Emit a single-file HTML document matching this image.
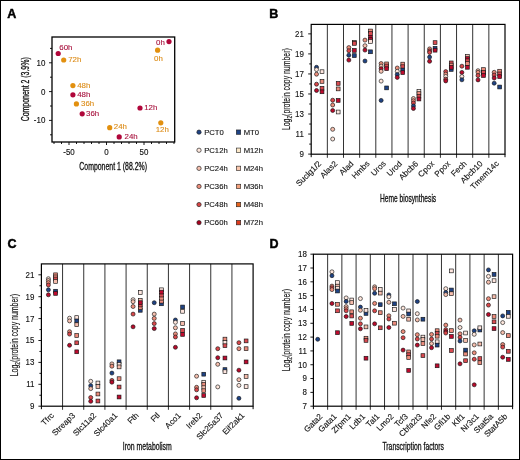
<!DOCTYPE html>
<html><head><meta charset="utf-8"><style>
html,body{margin:0;padding:0;background:#fff;}
svg{display:block;will-change:transform;}
text{font-family:"Liberation Sans", sans-serif;}
</style></head><body>
<svg width="520" height="460" viewBox="0 0 520 460" font-family='"Liberation Sans", sans-serif'>
<rect x="0" y="0" width="520" height="460" fill="#fff"/>
<line x1="54" y1="142" x2="54" y2="144" stroke="#000" stroke-width="0.9"/>
<line x1="61.5" y1="142" x2="61.5" y2="144" stroke="#000" stroke-width="0.9"/>
<line x1="69" y1="142" x2="69" y2="145" stroke="#000" stroke-width="0.9"/>
<line x1="76.5" y1="142" x2="76.5" y2="144" stroke="#000" stroke-width="0.9"/>
<line x1="84" y1="142" x2="84" y2="144" stroke="#000" stroke-width="0.9"/>
<line x1="91.5" y1="142" x2="91.5" y2="144" stroke="#000" stroke-width="0.9"/>
<line x1="99" y1="142" x2="99" y2="144" stroke="#000" stroke-width="0.9"/>
<line x1="106.5" y1="142" x2="106.5" y2="145" stroke="#000" stroke-width="0.9"/>
<line x1="114" y1="142" x2="114" y2="144" stroke="#000" stroke-width="0.9"/>
<line x1="121.5" y1="142" x2="121.5" y2="144" stroke="#000" stroke-width="0.9"/>
<line x1="129" y1="142" x2="129" y2="144" stroke="#000" stroke-width="0.9"/>
<line x1="136.5" y1="142" x2="136.5" y2="144" stroke="#000" stroke-width="0.9"/>
<line x1="144" y1="142" x2="144" y2="145" stroke="#000" stroke-width="0.9"/>
<line x1="151.5" y1="142" x2="151.5" y2="144" stroke="#000" stroke-width="0.9"/>
<line x1="159" y1="142" x2="159" y2="144" stroke="#000" stroke-width="0.9"/>
<line x1="166.5" y1="142" x2="166.5" y2="144" stroke="#000" stroke-width="0.9"/>
<line x1="174" y1="142" x2="174" y2="144" stroke="#000" stroke-width="0.9"/>
<text transform="translate(69,155.3) scale(0.97,1)" font-size="8.2" text-anchor="middle" fill="#111" stroke="#111" stroke-width="0.12">-50</text>
<text transform="translate(106.5,155.3) scale(0.97,1)" font-size="8.2" text-anchor="middle" fill="#111" stroke="#111" stroke-width="0.12">0</text>
<text transform="translate(144,155.3) scale(0.97,1)" font-size="8.2" text-anchor="middle" fill="#111" stroke="#111" stroke-width="0.12">50</text>
<line x1="50" y1="134.8" x2="52" y2="134.8" stroke="#000" stroke-width="0.9"/>
<line x1="49" y1="120.4" x2="52" y2="120.4" stroke="#000" stroke-width="0.9"/>
<line x1="50" y1="106" x2="52" y2="106" stroke="#000" stroke-width="0.9"/>
<line x1="49" y1="91.6" x2="52" y2="91.6" stroke="#000" stroke-width="0.9"/>
<line x1="50" y1="77.2" x2="52" y2="77.2" stroke="#000" stroke-width="0.9"/>
<line x1="49" y1="62.8" x2="52" y2="62.8" stroke="#000" stroke-width="0.9"/>
<line x1="50" y1="48.4" x2="52" y2="48.4" stroke="#000" stroke-width="0.9"/>
<text transform="translate(45.3,65.7) scale(0.97,1)" font-size="8.2" text-anchor="end" fill="#111" stroke="#111" stroke-width="0.12">10</text>
<text transform="translate(45.3,94.5) scale(0.97,1)" font-size="8.2" text-anchor="end" fill="#111" stroke="#111" stroke-width="0.12">0</text>
<text transform="translate(45.3,123.3) scale(0.97,1)" font-size="8.2" text-anchor="end" fill="#111" stroke="#111" stroke-width="0.12">-10</text>
<rect x="52" y="37" width="122.7" height="105" fill="none" stroke="#000" stroke-width="1.3"/>
<circle cx="58.2" cy="53.5" r="2.6" fill="#b0063a"/>
<text x="59.3" y="49.7" font-size="7.9" text-anchor="start" fill="#a8123e" font-weight="normal" stroke="#a8123e" stroke-width="0.12" >60h</text>
<circle cx="63.7" cy="60" r="2.6" fill="#e2900f"/>
<text x="68.2" y="62.2" font-size="7.9" text-anchor="start" fill="#dc8c18" font-weight="normal" stroke="#dc8c18" stroke-width="0.12" >72h</text>
<circle cx="169" cy="41.6" r="2.6" fill="#b0063a"/>
<text x="164.8" y="45.2" font-size="7.9" text-anchor="end" fill="#a8123e" font-weight="normal" stroke="#a8123e" stroke-width="0.12" >0h</text>
<circle cx="157.6" cy="50.2" r="2.6" fill="#e2900f"/>
<text x="154.1" y="60.5" font-size="7.9" text-anchor="start" fill="#dc8c18" font-weight="normal" stroke="#dc8c18" stroke-width="0.12" >0h</text>
<circle cx="72.9" cy="85.6" r="2.6" fill="#e2900f"/>
<text x="77.2" y="87.6" font-size="7.9" text-anchor="start" fill="#dc8c18" font-weight="normal" stroke="#dc8c18" stroke-width="0.12" >48h</text>
<circle cx="72.9" cy="94.8" r="2.6" fill="#b0063a"/>
<text x="77.2" y="96.8" font-size="7.9" text-anchor="start" fill="#a8123e" font-weight="normal" stroke="#a8123e" stroke-width="0.12" >48h</text>
<circle cx="76.4" cy="103.9" r="2.6" fill="#e2900f"/>
<text x="81" y="105.6" font-size="7.9" text-anchor="start" fill="#dc8c18" font-weight="normal" stroke="#dc8c18" stroke-width="0.12" >36h</text>
<circle cx="82.2" cy="113.8" r="2.6" fill="#b0063a"/>
<text x="86" y="115.7" font-size="7.9" text-anchor="start" fill="#a8123e" font-weight="normal" stroke="#a8123e" stroke-width="0.12" >36h</text>
<circle cx="140" cy="108" r="2.6" fill="#b0063a"/>
<text x="144.2" y="110.1" font-size="7.9" text-anchor="start" fill="#a8123e" font-weight="normal" stroke="#a8123e" stroke-width="0.12" >12h</text>
<circle cx="160.8" cy="122.8" r="2.6" fill="#e2900f"/>
<text x="155.7" y="132.4" font-size="7.9" text-anchor="start" fill="#dc8c18" font-weight="normal" stroke="#dc8c18" stroke-width="0.12" >12h</text>
<circle cx="109.7" cy="127.7" r="2.6" fill="#e2900f"/>
<text x="113.8" y="128.5" font-size="7.9" text-anchor="start" fill="#dc8c18" font-weight="normal" stroke="#dc8c18" stroke-width="0.12" >24h</text>
<circle cx="119.2" cy="136.9" r="2.6" fill="#b0063a"/>
<text x="124.6" y="138.5" font-size="7.9" text-anchor="start" fill="#a8123e" font-weight="normal" stroke="#a8123e" stroke-width="0.12" >24h</text>
<text x="79.3" y="169.7" font-size="10" text-anchor="start" fill="#111" font-weight="normal"  textLength="67.7" lengthAdjust="spacingAndGlyphs" stroke="#111" stroke-width="0.3">Component 1 (88.2%)</text>
<text transform="translate(28.6,121.3) rotate(-90)" font-size="10" fill="#111" stroke="#111" stroke-width="0.3" textLength="64" lengthAdjust="spacingAndGlyphs">Component 2 (3.9%)</text>
<circle cx="199" cy="132.15" r="2.15" fill="#1f4385" stroke="#1a1a1a" stroke-width="0.65"/>
<text x="204.2" y="134.55" font-size="7.7" text-anchor="start" fill="#111" font-weight="normal" stroke="#111" stroke-width="0.12" >PCT0</text>
<rect x="236.3" y="129.95" width="4.4" height="4.4" fill="#1f4385" stroke="#222" stroke-width="0.6"/>
<text x="243.7" y="134.55" font-size="7.7" text-anchor="start" fill="#111" font-weight="normal" stroke="#111" stroke-width="0.12" >MT0</text>
<circle cx="199" cy="150.25" r="2.15" fill="#fde6dc" stroke="#1a1a1a" stroke-width="0.65"/>
<text x="204.2" y="152.65" font-size="7.7" text-anchor="start" fill="#111" font-weight="normal" stroke="#111" stroke-width="0.12" >PC12h</text>
<rect x="236.3" y="148.05" width="4.4" height="4.4" fill="#fde9c9" stroke="#222" stroke-width="0.6"/>
<text x="243.7" y="152.65" font-size="7.7" text-anchor="start" fill="#111" font-weight="normal" stroke="#111" stroke-width="0.12" >M12h</text>
<circle cx="199" cy="168.35" r="2.15" fill="#f5bfae" stroke="#1a1a1a" stroke-width="0.65"/>
<text x="204.2" y="170.75" font-size="7.7" text-anchor="start" fill="#111" font-weight="normal" stroke="#111" stroke-width="0.12" >PC24h</text>
<rect x="236.3" y="166.15" width="4.4" height="4.4" fill="#fbc8ae" stroke="#222" stroke-width="0.6"/>
<text x="243.7" y="170.75" font-size="7.7" text-anchor="start" fill="#111" font-weight="normal" stroke="#111" stroke-width="0.12" >M24h</text>
<circle cx="199" cy="186.45" r="2.15" fill="#ec8e7c" stroke="#1a1a1a" stroke-width="0.65"/>
<text x="204.2" y="188.85" font-size="7.7" text-anchor="start" fill="#111" font-weight="normal" stroke="#111" stroke-width="0.12" >PC36h</text>
<rect x="236.3" y="184.25" width="4.4" height="4.4" fill="#f5a37f" stroke="#222" stroke-width="0.6"/>
<text x="243.7" y="188.85" font-size="7.7" text-anchor="start" fill="#111" font-weight="normal" stroke="#111" stroke-width="0.12" >M36h</text>
<circle cx="199" cy="204.55" r="2.15" fill="#d64545" stroke="#1a1a1a" stroke-width="0.65"/>
<text x="204.2" y="206.95" font-size="7.7" text-anchor="start" fill="#111" font-weight="normal" stroke="#111" stroke-width="0.12" >PC48h</text>
<rect x="236.3" y="202.35" width="4.4" height="4.4" fill="#e6631d" stroke="#222" stroke-width="0.6"/>
<text x="243.7" y="206.95" font-size="7.7" text-anchor="start" fill="#111" font-weight="normal" stroke="#111" stroke-width="0.12" >M48h</text>
<circle cx="199" cy="222.65" r="2.15" fill="#a8001f" stroke="#1a1a1a" stroke-width="0.65"/>
<text x="204.2" y="225.05" font-size="7.7" text-anchor="start" fill="#111" font-weight="normal" stroke="#111" stroke-width="0.12" >PC60h</text>
<rect x="236.3" y="220.45" width="4.4" height="4.4" fill="#de3a1c" stroke="#222" stroke-width="0.6"/>
<text x="243.7" y="225.05" font-size="7.7" text-anchor="start" fill="#111" font-weight="normal" stroke="#111" stroke-width="0.12" >M72h</text>
<line x1="327.35" y1="24.4" x2="327.35" y2="157.8" stroke="#333" stroke-width="1.0"/>
<line x1="343.5" y1="24.4" x2="343.5" y2="157.8" stroke="#333" stroke-width="1.0"/>
<line x1="359.65" y1="24.4" x2="359.65" y2="157.8" stroke="#333" stroke-width="1.0"/>
<line x1="375.8" y1="24.4" x2="375.8" y2="157.8" stroke="#333" stroke-width="1.0"/>
<line x1="391.95" y1="24.4" x2="391.95" y2="157.8" stroke="#333" stroke-width="1.0"/>
<line x1="408.1" y1="24.4" x2="408.1" y2="157.8" stroke="#333" stroke-width="1.0"/>
<line x1="424.25" y1="24.4" x2="424.25" y2="157.8" stroke="#333" stroke-width="1.0"/>
<line x1="440.4" y1="24.4" x2="440.4" y2="157.8" stroke="#333" stroke-width="1.0"/>
<line x1="456.55" y1="24.4" x2="456.55" y2="157.8" stroke="#333" stroke-width="1.0"/>
<line x1="472.7" y1="24.4" x2="472.7" y2="157.8" stroke="#333" stroke-width="1.0"/>
<line x1="488.85" y1="24.4" x2="488.85" y2="157.8" stroke="#333" stroke-width="1.0"/>
<line x1="311.2" y1="154.2" x2="311.2" y2="157.2" stroke="#000" stroke-width="1.0"/>
<line x1="505" y1="154.2" x2="505" y2="157.2" stroke="#000" stroke-width="1.0"/>
<line x1="309.2" y1="144.08" x2="311.2" y2="144.08" stroke="#000" stroke-width="0.9"/>
<line x1="309.2" y1="124.04" x2="311.2" y2="124.04" stroke="#000" stroke-width="0.9"/>
<line x1="309.2" y1="104" x2="311.2" y2="104" stroke="#000" stroke-width="0.9"/>
<line x1="309.2" y1="83.96" x2="311.2" y2="83.96" stroke="#000" stroke-width="0.9"/>
<line x1="309.2" y1="63.92" x2="311.2" y2="63.92" stroke="#000" stroke-width="0.9"/>
<line x1="309.2" y1="43.88" x2="311.2" y2="43.88" stroke="#000" stroke-width="0.9"/>
<line x1="308.2" y1="154.1" x2="311.2" y2="154.1" stroke="#000" stroke-width="0.9"/>
<text transform="translate(303.8,157) scale(0.97,1)" font-size="8.2" text-anchor="end" fill="#111" stroke="#111" stroke-width="0.12">9</text>
<line x1="308.2" y1="134.06" x2="311.2" y2="134.06" stroke="#000" stroke-width="0.9"/>
<text transform="translate(303.8,136.96) scale(0.97,1)" font-size="8.2" text-anchor="end" fill="#111" stroke="#111" stroke-width="0.12">11</text>
<line x1="308.2" y1="114.02" x2="311.2" y2="114.02" stroke="#000" stroke-width="0.9"/>
<text transform="translate(303.8,116.92) scale(0.97,1)" font-size="8.2" text-anchor="end" fill="#111" stroke="#111" stroke-width="0.12">13</text>
<line x1="308.2" y1="93.98" x2="311.2" y2="93.98" stroke="#000" stroke-width="0.9"/>
<text transform="translate(303.8,96.88) scale(0.97,1)" font-size="8.2" text-anchor="end" fill="#111" stroke="#111" stroke-width="0.12">15</text>
<line x1="308.2" y1="73.94" x2="311.2" y2="73.94" stroke="#000" stroke-width="0.9"/>
<text transform="translate(303.8,76.84) scale(0.97,1)" font-size="8.2" text-anchor="end" fill="#111" stroke="#111" stroke-width="0.12">17</text>
<line x1="308.2" y1="53.9" x2="311.2" y2="53.9" stroke="#000" stroke-width="0.9"/>
<text transform="translate(303.8,56.8) scale(0.97,1)" font-size="8.2" text-anchor="end" fill="#111" stroke="#111" stroke-width="0.12">19</text>
<line x1="308.2" y1="33.86" x2="311.2" y2="33.86" stroke="#000" stroke-width="0.9"/>
<text transform="translate(303.8,36.76) scale(0.97,1)" font-size="8.2" text-anchor="end" fill="#111" stroke="#111" stroke-width="0.12">21</text>
<rect x="311.2" y="24.4" width="193.8" height="129.8" fill="none" stroke="#000" stroke-width="1.2"/>
<circle cx="316.53" cy="67.3" r="2" fill="#1f4385" stroke="#151515" stroke-width="0.65"/>
<circle cx="316.53" cy="69.6" r="2" fill="#fde6dc" stroke="#151515" stroke-width="0.65"/>
<circle cx="316.53" cy="74.2" r="2" fill="#ec8e7c" stroke="#151515" stroke-width="0.65"/>
<circle cx="316.53" cy="84.2" r="2" fill="#d9474a" stroke="#151515" stroke-width="0.65"/>
<circle cx="316.53" cy="90.5" r="2" fill="#b80c2c" stroke="#151515" stroke-width="0.65"/>
<rect x="320.12" y="69.8" width="3.8" height="3.8" fill="#fde5de" stroke="#151515" stroke-width="0.65"/>
<rect x="320.12" y="79.5" width="3.8" height="3.8" fill="#ec8c7c" stroke="#151515" stroke-width="0.65"/>
<rect x="320.12" y="86.4" width="3.8" height="3.8" fill="#d94a50" stroke="#151515" stroke-width="0.65"/>
<rect x="320.12" y="89.9" width="3.8" height="3.8" fill="#bf0a2e" stroke="#151515" stroke-width="0.65"/>
<circle cx="332.68" cy="100.2" r="2" fill="#d9474a" stroke="#151515" stroke-width="0.65"/>
<circle cx="332.68" cy="105" r="2" fill="#ec8e7c" stroke="#151515" stroke-width="0.65"/>
<circle cx="332.68" cy="110.5" r="2" fill="#b80c2c" stroke="#151515" stroke-width="0.65"/>
<circle cx="332.68" cy="129.3" r="2" fill="#f5bfae" stroke="#151515" stroke-width="0.65"/>
<circle cx="332.68" cy="139" r="2" fill="#fde6dc" stroke="#151515" stroke-width="0.65"/>
<rect x="336.27" y="81.5" width="3.8" height="3.8" fill="#d94a50" stroke="#151515" stroke-width="0.65"/>
<rect x="336.27" y="87" width="3.8" height="3.8" fill="#ec8c7c" stroke="#151515" stroke-width="0.65"/>
<rect x="336.27" y="98.5" width="3.8" height="3.8" fill="#bf0a2e" stroke="#151515" stroke-width="0.65"/>
<rect x="336.27" y="110.1" width="3.8" height="3.8" fill="#fde5de" stroke="#151515" stroke-width="0.65"/>
<circle cx="348.83" cy="47.6" r="2" fill="#ec8e7c" stroke="#151515" stroke-width="0.65"/>
<circle cx="348.83" cy="50.7" r="2" fill="#d9474a" stroke="#151515" stroke-width="0.65"/>
<circle cx="348.83" cy="55.2" r="2" fill="#1f4385" stroke="#151515" stroke-width="0.65"/>
<circle cx="348.83" cy="60.1" r="2" fill="#b80c2c" stroke="#151515" stroke-width="0.65"/>
<rect x="352.42" y="40.5" width="3.8" height="3.8" fill="#ec8c7c" stroke="#151515" stroke-width="0.65"/>
<rect x="352.42" y="41.5" width="3.8" height="3.8" fill="#d94a50" stroke="#151515" stroke-width="0.65"/>
<rect x="352.42" y="48.5" width="3.8" height="3.8" fill="#bf0a2e" stroke="#151515" stroke-width="0.65"/>
<rect x="352.42" y="53.7" width="3.8" height="3.8" fill="#1f4385" stroke="#151515" stroke-width="0.65"/>
<circle cx="364.98" cy="40.1" r="2" fill="#ec8e7c" stroke="#151515" stroke-width="0.65"/>
<circle cx="364.98" cy="45.7" r="2" fill="#f5bfae" stroke="#151515" stroke-width="0.65"/>
<circle cx="364.98" cy="50.1" r="2" fill="#b80c2c" stroke="#151515" stroke-width="0.65"/>
<circle cx="364.98" cy="61" r="2" fill="#1f4385" stroke="#151515" stroke-width="0.65"/>
<rect x="368.57" y="29.1" width="3.8" height="3.8" fill="#ec8c7c" stroke="#151515" stroke-width="0.65"/>
<rect x="368.57" y="31.6" width="3.8" height="3.8" fill="#d94a50" stroke="#151515" stroke-width="0.65"/>
<rect x="368.57" y="35.3" width="3.8" height="3.8" fill="#bf0a2e" stroke="#151515" stroke-width="0.65"/>
<rect x="368.57" y="37.7" width="3.8" height="3.8" fill="#bf0a2e" stroke="#151515" stroke-width="0.65"/>
<rect x="368.57" y="39.5" width="3.8" height="3.8" fill="#fde5de" stroke="#151515" stroke-width="0.65"/>
<rect x="368.57" y="49.9" width="3.8" height="3.8" fill="#1f4385" stroke="#151515" stroke-width="0.65"/>
<circle cx="381.13" cy="63.5" r="2" fill="#ec8e7c" stroke="#151515" stroke-width="0.65"/>
<circle cx="381.13" cy="66.1" r="2" fill="#f5bfae" stroke="#151515" stroke-width="0.65"/>
<circle cx="381.13" cy="68.7" r="2" fill="#b80c2c" stroke="#151515" stroke-width="0.65"/>
<circle cx="381.13" cy="71.3" r="2" fill="#f5bfae" stroke="#151515" stroke-width="0.65"/>
<circle cx="381.13" cy="81.1" r="2" fill="#fde6dc" stroke="#151515" stroke-width="0.65"/>
<circle cx="381.13" cy="100.4" r="2" fill="#1f4385" stroke="#151515" stroke-width="0.65"/>
<rect x="384.72" y="62" width="3.8" height="3.8" fill="#ec8c7c" stroke="#151515" stroke-width="0.65"/>
<rect x="384.72" y="64.1" width="3.8" height="3.8" fill="#d94a50" stroke="#151515" stroke-width="0.65"/>
<rect x="384.72" y="66.8" width="3.8" height="3.8" fill="#bf0a2e" stroke="#151515" stroke-width="0.65"/>
<rect x="384.72" y="86" width="3.8" height="3.8" fill="#1f4385" stroke="#151515" stroke-width="0.65"/>
<circle cx="397.28" cy="68" r="2" fill="#ec8e7c" stroke="#151515" stroke-width="0.65"/>
<circle cx="397.28" cy="71.3" r="2" fill="#fde6dc" stroke="#151515" stroke-width="0.65"/>
<circle cx="397.28" cy="74.6" r="2" fill="#1f4385" stroke="#151515" stroke-width="0.65"/>
<circle cx="397.28" cy="77.4" r="2" fill="#b80c2c" stroke="#151515" stroke-width="0.65"/>
<rect x="400.87" y="62.2" width="3.8" height="3.8" fill="#ec8c7c" stroke="#151515" stroke-width="0.65"/>
<rect x="400.87" y="64.8" width="3.8" height="3.8" fill="#d94a50" stroke="#151515" stroke-width="0.65"/>
<rect x="400.87" y="68.1" width="3.8" height="3.8" fill="#1f4385" stroke="#151515" stroke-width="0.65"/>
<rect x="400.87" y="70.7" width="3.8" height="3.8" fill="#bf0a2e" stroke="#151515" stroke-width="0.65"/>
<circle cx="413.43" cy="98.5" r="2" fill="#f5bfae" stroke="#151515" stroke-width="0.65"/>
<circle cx="413.43" cy="100.7" r="2" fill="#ec8e7c" stroke="#151515" stroke-width="0.65"/>
<circle cx="413.43" cy="103" r="2" fill="#d9474a" stroke="#151515" stroke-width="0.65"/>
<circle cx="413.43" cy="105.9" r="2" fill="#1f4385" stroke="#151515" stroke-width="0.65"/>
<circle cx="413.43" cy="108.5" r="2" fill="#b80c2c" stroke="#151515" stroke-width="0.65"/>
<rect x="417.02" y="89.5" width="3.8" height="3.8" fill="#fde5de" stroke="#151515" stroke-width="0.65"/>
<rect x="417.02" y="91.7" width="3.8" height="3.8" fill="#ec8c7c" stroke="#151515" stroke-width="0.65"/>
<rect x="417.02" y="94.4" width="3.8" height="3.8" fill="#d94a50" stroke="#151515" stroke-width="0.65"/>
<rect x="417.02" y="97.1" width="3.8" height="3.8" fill="#bf0a2e" stroke="#151515" stroke-width="0.65"/>
<circle cx="429.58" cy="48.9" r="2" fill="#ec8e7c" stroke="#151515" stroke-width="0.65"/>
<circle cx="429.58" cy="50.9" r="2" fill="#d9474a" stroke="#151515" stroke-width="0.65"/>
<circle cx="429.58" cy="52.4" r="2" fill="#d9474a" stroke="#151515" stroke-width="0.65"/>
<circle cx="429.58" cy="57.1" r="2" fill="#1f4385" stroke="#151515" stroke-width="0.65"/>
<circle cx="429.58" cy="61.3" r="2" fill="#b80c2c" stroke="#151515" stroke-width="0.65"/>
<rect x="433.17" y="40.7" width="3.8" height="3.8" fill="#d94a50" stroke="#151515" stroke-width="0.65"/>
<rect x="433.17" y="46.4" width="3.8" height="3.8" fill="#1f4385" stroke="#151515" stroke-width="0.65"/>
<rect x="433.17" y="48.3" width="3.8" height="3.8" fill="#bf0a2e" stroke="#151515" stroke-width="0.65"/>
<circle cx="445.73" cy="71.6" r="2" fill="#d9474a" stroke="#151515" stroke-width="0.65"/>
<circle cx="445.73" cy="74.1" r="2" fill="#ec8e7c" stroke="#151515" stroke-width="0.65"/>
<circle cx="445.73" cy="76.5" r="2" fill="#fde6dc" stroke="#151515" stroke-width="0.65"/>
<circle cx="445.73" cy="79.2" r="2" fill="#d9474a" stroke="#151515" stroke-width="0.65"/>
<circle cx="445.73" cy="80.9" r="2" fill="#b80c2c" stroke="#151515" stroke-width="0.65"/>
<rect x="449.32" y="67.5" width="3.8" height="3.8" fill="#1f4385" stroke="#151515" stroke-width="0.65"/>
<rect x="449.32" y="61" width="3.8" height="3.8" fill="#d94a50" stroke="#151515" stroke-width="0.65"/>
<rect x="449.32" y="63.2" width="3.8" height="3.8" fill="#ec8c7c" stroke="#151515" stroke-width="0.65"/>
<rect x="449.32" y="65.4" width="3.8" height="3.8" fill="#bf0a2e" stroke="#151515" stroke-width="0.65"/>
<circle cx="461.88" cy="66.2" r="2" fill="#d9474a" stroke="#151515" stroke-width="0.65"/>
<circle cx="461.88" cy="72.4" r="2" fill="#b80c2c" stroke="#151515" stroke-width="0.65"/>
<circle cx="461.88" cy="76.5" r="2" fill="#fde6dc" stroke="#151515" stroke-width="0.65"/>
<circle cx="461.88" cy="79.8" r="2" fill="#1f4385" stroke="#151515" stroke-width="0.65"/>
<rect x="465.47" y="54.5" width="3.8" height="3.8" fill="#f5bcac" stroke="#151515" stroke-width="0.65"/>
<rect x="465.47" y="56.7" width="3.8" height="3.8" fill="#bf0a2e" stroke="#151515" stroke-width="0.65"/>
<rect x="465.47" y="58.9" width="3.8" height="3.8" fill="#d94a50" stroke="#151515" stroke-width="0.65"/>
<rect x="465.47" y="61.6" width="3.8" height="3.8" fill="#ec8c7c" stroke="#151515" stroke-width="0.65"/>
<rect x="465.47" y="65.4" width="3.8" height="3.8" fill="#bf0a2e" stroke="#151515" stroke-width="0.65"/>
<circle cx="478.03" cy="70.7" r="2" fill="#f5bfae" stroke="#151515" stroke-width="0.65"/>
<circle cx="478.03" cy="72.3" r="2" fill="#ec8e7c" stroke="#151515" stroke-width="0.65"/>
<circle cx="478.03" cy="75.5" r="2" fill="#d9474a" stroke="#151515" stroke-width="0.65"/>
<circle cx="478.03" cy="79.9" r="2" fill="#b80c2c" stroke="#151515" stroke-width="0.65"/>
<rect x="481.62" y="71.1" width="3.8" height="3.8" fill="#1f4385" stroke="#151515" stroke-width="0.65"/>
<rect x="481.62" y="67.7" width="3.8" height="3.8" fill="#ec8c7c" stroke="#151515" stroke-width="0.65"/>
<rect x="481.62" y="70.5" width="3.8" height="3.8" fill="#d94a50" stroke="#151515" stroke-width="0.65"/>
<rect x="481.62" y="73.6" width="3.8" height="3.8" fill="#bf0a2e" stroke="#151515" stroke-width="0.65"/>
<circle cx="494.18" cy="72.3" r="2" fill="#ec8e7c" stroke="#151515" stroke-width="0.65"/>
<circle cx="494.18" cy="75" r="2" fill="#d9474a" stroke="#151515" stroke-width="0.65"/>
<circle cx="494.18" cy="78" r="2" fill="#b80c2c" stroke="#151515" stroke-width="0.65"/>
<circle cx="494.18" cy="83.2" r="2" fill="#1f4385" stroke="#151515" stroke-width="0.65"/>
<rect x="497.77" y="69.3" width="3.8" height="3.8" fill="#ec8c7c" stroke="#151515" stroke-width="0.65"/>
<rect x="497.77" y="72" width="3.8" height="3.8" fill="#d94a50" stroke="#151515" stroke-width="0.65"/>
<rect x="497.77" y="74.7" width="3.8" height="3.8" fill="#bf0a2e" stroke="#151515" stroke-width="0.65"/>
<rect x="497.77" y="85.1" width="3.8" height="3.8" fill="#1f4385" stroke="#151515" stroke-width="0.65"/>
<text transform="translate(321.77,164.2) rotate(-45)" font-size="8.2" text-anchor="end" fill="#111" stroke="#111" stroke-width="0.12">Suclg1/2</text>
<text transform="translate(337.92,164.2) rotate(-45)" font-size="8.2" text-anchor="end" fill="#111" stroke="#111" stroke-width="0.12">Alas2</text>
<text transform="translate(354.07,164.2) rotate(-45)" font-size="8.2" text-anchor="end" fill="#111" stroke="#111" stroke-width="0.12">Alad</text>
<text transform="translate(370.22,164.2) rotate(-45)" font-size="8.2" text-anchor="end" fill="#111" stroke="#111" stroke-width="0.12">Hmbs</text>
<text transform="translate(386.38,164.2) rotate(-45)" font-size="8.2" text-anchor="end" fill="#111" stroke="#111" stroke-width="0.12">Uros</text>
<text transform="translate(402.52,164.2) rotate(-45)" font-size="8.2" text-anchor="end" fill="#111" stroke="#111" stroke-width="0.12">Urod</text>
<text transform="translate(418.68,164.2) rotate(-45)" font-size="8.2" text-anchor="end" fill="#111" stroke="#111" stroke-width="0.12">Abcb6</text>
<text transform="translate(434.82,164.2) rotate(-45)" font-size="8.2" text-anchor="end" fill="#111" stroke="#111" stroke-width="0.12">Cpox</text>
<text transform="translate(450.97,164.2) rotate(-45)" font-size="8.2" text-anchor="end" fill="#111" stroke="#111" stroke-width="0.12">Ppox</text>
<text transform="translate(467.12,164.2) rotate(-45)" font-size="8.2" text-anchor="end" fill="#111" stroke="#111" stroke-width="0.12">Fech</text>
<text transform="translate(483.28,164.2) rotate(-45)" font-size="8.2" text-anchor="end" fill="#111" stroke="#111" stroke-width="0.12">Abcb10</text>
<text transform="translate(499.43,164.2) rotate(-45)" font-size="8.2" text-anchor="end" fill="#111" stroke="#111" stroke-width="0.12">Tmem14c</text>
<text x="408.1" y="201.7" font-size="10.2" text-anchor="middle" fill="#111" font-weight="normal"  textLength="56.2" lengthAdjust="spacingAndGlyphs" stroke="#111" stroke-width="0.3">Heme biosynthesis</text>
<text transform="translate(290.1,130.1) rotate(-90)" font-size="10.2" fill="#111" stroke="#111" stroke-width="0.15" textLength="81.9" lengthAdjust="spacingAndGlyphs">Log<tspan font-size="7" dy="2.2">2</tspan><tspan dy="-2.2">(protein copy number)</tspan></text>
<line x1="62.57" y1="263.9" x2="62.57" y2="409.8" stroke="#333" stroke-width="1.0"/>
<line x1="83.74" y1="263.9" x2="83.74" y2="409.8" stroke="#333" stroke-width="1.0"/>
<line x1="104.91" y1="263.9" x2="104.91" y2="409.8" stroke="#333" stroke-width="1.0"/>
<line x1="126.08" y1="263.9" x2="126.08" y2="409.8" stroke="#333" stroke-width="1.0"/>
<line x1="147.25" y1="263.9" x2="147.25" y2="409.8" stroke="#333" stroke-width="1.0"/>
<line x1="168.42" y1="263.9" x2="168.42" y2="409.8" stroke="#333" stroke-width="1.0"/>
<line x1="189.59" y1="263.9" x2="189.59" y2="409.8" stroke="#333" stroke-width="1.0"/>
<line x1="210.76" y1="263.9" x2="210.76" y2="409.8" stroke="#333" stroke-width="1.0"/>
<line x1="231.93" y1="263.9" x2="231.93" y2="409.8" stroke="#333" stroke-width="1.0"/>
<line x1="41.4" y1="406.2" x2="41.4" y2="409.2" stroke="#000" stroke-width="1.0"/>
<line x1="253.1" y1="406.2" x2="253.1" y2="409.2" stroke="#000" stroke-width="1.0"/>
<line x1="39.4" y1="395.25" x2="41.4" y2="395.25" stroke="#000" stroke-width="0.9"/>
<line x1="39.4" y1="373.35" x2="41.4" y2="373.35" stroke="#000" stroke-width="0.9"/>
<line x1="39.4" y1="351.45" x2="41.4" y2="351.45" stroke="#000" stroke-width="0.9"/>
<line x1="39.4" y1="329.55" x2="41.4" y2="329.55" stroke="#000" stroke-width="0.9"/>
<line x1="39.4" y1="307.65" x2="41.4" y2="307.65" stroke="#000" stroke-width="0.9"/>
<line x1="39.4" y1="285.75" x2="41.4" y2="285.75" stroke="#000" stroke-width="0.9"/>
<line x1="38.4" y1="406.2" x2="41.4" y2="406.2" stroke="#000" stroke-width="0.9"/>
<text transform="translate(34.4,409.1) scale(0.97,1)" font-size="8.2" text-anchor="end" fill="#111" stroke="#111" stroke-width="0.12">9</text>
<line x1="38.4" y1="384.3" x2="41.4" y2="384.3" stroke="#000" stroke-width="0.9"/>
<text transform="translate(34.4,387.2) scale(0.97,1)" font-size="8.2" text-anchor="end" fill="#111" stroke="#111" stroke-width="0.12">11</text>
<line x1="38.4" y1="362.4" x2="41.4" y2="362.4" stroke="#000" stroke-width="0.9"/>
<text transform="translate(34.4,365.3) scale(0.97,1)" font-size="8.2" text-anchor="end" fill="#111" stroke="#111" stroke-width="0.12">13</text>
<line x1="38.4" y1="340.5" x2="41.4" y2="340.5" stroke="#000" stroke-width="0.9"/>
<text transform="translate(34.4,343.4) scale(0.97,1)" font-size="8.2" text-anchor="end" fill="#111" stroke="#111" stroke-width="0.12">15</text>
<line x1="38.4" y1="318.6" x2="41.4" y2="318.6" stroke="#000" stroke-width="0.9"/>
<text transform="translate(34.4,321.5) scale(0.97,1)" font-size="8.2" text-anchor="end" fill="#111" stroke="#111" stroke-width="0.12">17</text>
<line x1="38.4" y1="296.7" x2="41.4" y2="296.7" stroke="#000" stroke-width="0.9"/>
<text transform="translate(34.4,299.6) scale(0.97,1)" font-size="8.2" text-anchor="end" fill="#111" stroke="#111" stroke-width="0.12">19</text>
<line x1="38.4" y1="274.8" x2="41.4" y2="274.8" stroke="#000" stroke-width="0.9"/>
<text transform="translate(34.4,277.7) scale(0.97,1)" font-size="8.2" text-anchor="end" fill="#111" stroke="#111" stroke-width="0.12">21</text>
<rect x="41.4" y="263.9" width="211.7" height="142.3" fill="none" stroke="#000" stroke-width="1.2"/>
<circle cx="48.39" cy="278.7" r="2" fill="#fde6dc" stroke="#151515" stroke-width="0.65"/>
<circle cx="48.39" cy="280.5" r="2" fill="#f5bfae" stroke="#151515" stroke-width="0.65"/>
<circle cx="48.39" cy="282.6" r="2" fill="#ec8e7c" stroke="#151515" stroke-width="0.65"/>
<circle cx="48.39" cy="285" r="2" fill="#d9474a" stroke="#151515" stroke-width="0.65"/>
<circle cx="48.39" cy="289.8" r="2" fill="#1f4385" stroke="#151515" stroke-width="0.65"/>
<circle cx="48.39" cy="294.8" r="2" fill="#b80c2c" stroke="#151515" stroke-width="0.65"/>
<rect x="53.68" y="272.9" width="3.8" height="3.8" fill="#ec8c7c" stroke="#151515" stroke-width="0.65"/>
<rect x="53.68" y="275" width="3.8" height="3.8" fill="#ec8c7c" stroke="#151515" stroke-width="0.65"/>
<rect x="53.68" y="277.1" width="3.8" height="3.8" fill="#d94a50" stroke="#151515" stroke-width="0.65"/>
<rect x="53.68" y="279.5" width="3.8" height="3.8" fill="#f5bcac" stroke="#151515" stroke-width="0.65"/>
<rect x="53.68" y="289.3" width="3.8" height="3.8" fill="#1f4385" stroke="#151515" stroke-width="0.65"/>
<rect x="53.68" y="291.5" width="3.8" height="3.8" fill="#bf0a2e" stroke="#151515" stroke-width="0.65"/>
<circle cx="69.56" cy="318.2" r="2" fill="#fde6dc" stroke="#151515" stroke-width="0.65"/>
<circle cx="69.56" cy="320.9" r="2" fill="#f5bfae" stroke="#151515" stroke-width="0.65"/>
<circle cx="69.56" cy="331.7" r="2" fill="#ec8e7c" stroke="#151515" stroke-width="0.65"/>
<circle cx="69.56" cy="334.1" r="2" fill="#d9474a" stroke="#151515" stroke-width="0.65"/>
<circle cx="69.56" cy="345.3" r="2" fill="#b80c2c" stroke="#151515" stroke-width="0.65"/>
<rect x="74.85" y="315.7" width="3.8" height="3.8" fill="#fde5de" stroke="#151515" stroke-width="0.65"/>
<rect x="74.85" y="319" width="3.8" height="3.8" fill="#1f4385" stroke="#151515" stroke-width="0.65"/>
<rect x="74.85" y="322.8" width="3.8" height="3.8" fill="#f5bcac" stroke="#151515" stroke-width="0.65"/>
<rect x="74.85" y="333.6" width="3.8" height="3.8" fill="#ec8c7c" stroke="#151515" stroke-width="0.65"/>
<rect x="74.85" y="340.9" width="3.8" height="3.8" fill="#d94a50" stroke="#151515" stroke-width="0.65"/>
<rect x="74.85" y="349.9" width="3.8" height="3.8" fill="#bf0a2e" stroke="#151515" stroke-width="0.65"/>
<circle cx="90.73" cy="381.3" r="2" fill="#fde6dc" stroke="#151515" stroke-width="0.65"/>
<circle cx="90.73" cy="385.7" r="2" fill="#1f4385" stroke="#151515" stroke-width="0.65"/>
<circle cx="90.73" cy="388.6" r="2" fill="#f5bfae" stroke="#151515" stroke-width="0.65"/>
<circle cx="90.73" cy="397.5" r="2" fill="#d9474a" stroke="#151515" stroke-width="0.65"/>
<circle cx="90.73" cy="401.3" r="2" fill="#b80c2c" stroke="#151515" stroke-width="0.65"/>
<rect x="96.02" y="381.1" width="3.8" height="3.8" fill="#fde5de" stroke="#151515" stroke-width="0.65"/>
<rect x="96.02" y="384.6" width="3.8" height="3.8" fill="#f5bcac" stroke="#151515" stroke-width="0.65"/>
<rect x="96.02" y="392.1" width="3.8" height="3.8" fill="#ec8c7c" stroke="#151515" stroke-width="0.65"/>
<rect x="96.02" y="399.1" width="3.8" height="3.8" fill="#d94a50" stroke="#151515" stroke-width="0.65"/>
<circle cx="111.9" cy="363.9" r="2" fill="#f5bfae" stroke="#151515" stroke-width="0.65"/>
<circle cx="111.9" cy="366.2" r="2" fill="#ec8e7c" stroke="#151515" stroke-width="0.65"/>
<circle cx="111.9" cy="373.1" r="2" fill="#1f4385" stroke="#151515" stroke-width="0.65"/>
<circle cx="111.9" cy="380.4" r="2" fill="#d9474a" stroke="#151515" stroke-width="0.65"/>
<circle cx="111.9" cy="382.2" r="2" fill="#b80c2c" stroke="#151515" stroke-width="0.65"/>
<rect x="117.19" y="359.9" width="3.8" height="3.8" fill="#1f4385" stroke="#151515" stroke-width="0.65"/>
<rect x="117.19" y="362.5" width="3.8" height="3.8" fill="#fde5de" stroke="#151515" stroke-width="0.65"/>
<rect x="117.19" y="365" width="3.8" height="3.8" fill="#f5bcac" stroke="#151515" stroke-width="0.65"/>
<rect x="117.19" y="376.8" width="3.8" height="3.8" fill="#ec8c7c" stroke="#151515" stroke-width="0.65"/>
<rect x="117.19" y="385.1" width="3.8" height="3.8" fill="#d94a50" stroke="#151515" stroke-width="0.65"/>
<rect x="117.19" y="395.1" width="3.8" height="3.8" fill="#bf0a2e" stroke="#151515" stroke-width="0.65"/>
<circle cx="133.07" cy="299.7" r="2" fill="#fde6dc" stroke="#151515" stroke-width="0.65"/>
<circle cx="133.07" cy="301.7" r="2" fill="#f5bfae" stroke="#151515" stroke-width="0.65"/>
<circle cx="133.07" cy="306.5" r="2" fill="#ec8e7c" stroke="#151515" stroke-width="0.65"/>
<circle cx="133.07" cy="314.1" r="2" fill="#d9474a" stroke="#151515" stroke-width="0.65"/>
<circle cx="133.07" cy="326.8" r="2" fill="#b80c2c" stroke="#151515" stroke-width="0.65"/>
<rect x="138.36" y="290.6" width="3.8" height="3.8" fill="#fde5de" stroke="#151515" stroke-width="0.65"/>
<rect x="138.36" y="298.5" width="3.8" height="3.8" fill="#f5bcac" stroke="#151515" stroke-width="0.65"/>
<rect x="138.36" y="308.4" width="3.8" height="3.8" fill="#1f4385" stroke="#151515" stroke-width="0.65"/>
<rect x="138.36" y="305.8" width="3.8" height="3.8" fill="#ec8c7c" stroke="#151515" stroke-width="0.65"/>
<rect x="138.36" y="303.1" width="3.8" height="3.8" fill="#d94a50" stroke="#151515" stroke-width="0.65"/>
<rect x="138.36" y="300.8" width="3.8" height="3.8" fill="#bf0a2e" stroke="#151515" stroke-width="0.65"/>
<circle cx="154.24" cy="302.7" r="2" fill="#1f4385" stroke="#151515" stroke-width="0.65"/>
<circle cx="154.24" cy="314.1" r="2" fill="#f5bfae" stroke="#151515" stroke-width="0.65"/>
<circle cx="154.24" cy="318.4" r="2" fill="#ec8e7c" stroke="#151515" stroke-width="0.65"/>
<circle cx="154.24" cy="323.6" r="2" fill="#d9474a" stroke="#151515" stroke-width="0.65"/>
<circle cx="154.24" cy="328.6" r="2" fill="#b80c2c" stroke="#151515" stroke-width="0.65"/>
<rect x="159.53" y="287.9" width="3.8" height="3.8" fill="#fde5de" stroke="#151515" stroke-width="0.65"/>
<rect x="159.53" y="301.9" width="3.8" height="3.8" fill="#1f4385" stroke="#151515" stroke-width="0.65"/>
<rect x="159.53" y="299.3" width="3.8" height="3.8" fill="#ec8c7c" stroke="#151515" stroke-width="0.65"/>
<rect x="159.53" y="296.3" width="3.8" height="3.8" fill="#ec8c7c" stroke="#151515" stroke-width="0.65"/>
<rect x="159.53" y="293.2" width="3.8" height="3.8" fill="#d94a50" stroke="#151515" stroke-width="0.65"/>
<rect x="159.53" y="290.2" width="3.8" height="3.8" fill="#bf0a2e" stroke="#151515" stroke-width="0.65"/>
<circle cx="175.41" cy="320" r="2" fill="#1f4385" stroke="#151515" stroke-width="0.65"/>
<circle cx="175.41" cy="322.3" r="2" fill="#fde6dc" stroke="#151515" stroke-width="0.65"/>
<circle cx="175.41" cy="327.8" r="2" fill="#f5bfae" stroke="#151515" stroke-width="0.65"/>
<circle cx="175.41" cy="333.9" r="2" fill="#ec8e7c" stroke="#151515" stroke-width="0.65"/>
<circle cx="175.41" cy="337" r="2" fill="#d9474a" stroke="#151515" stroke-width="0.65"/>
<circle cx="175.41" cy="347.3" r="2" fill="#b80c2c" stroke="#151515" stroke-width="0.65"/>
<rect x="180.7" y="305.1" width="3.8" height="3.8" fill="#1f4385" stroke="#151515" stroke-width="0.65"/>
<rect x="180.7" y="309.4" width="3.8" height="3.8" fill="#fde5de" stroke="#151515" stroke-width="0.65"/>
<rect x="180.7" y="321.6" width="3.8" height="3.8" fill="#f5bcac" stroke="#151515" stroke-width="0.65"/>
<rect x="180.7" y="328.5" width="3.8" height="3.8" fill="#d94a50" stroke="#151515" stroke-width="0.65"/>
<rect x="180.7" y="332.5" width="3.8" height="3.8" fill="#bf0a2e" stroke="#151515" stroke-width="0.65"/>
<circle cx="196.58" cy="376.2" r="2" fill="#f5bfae" stroke="#151515" stroke-width="0.65"/>
<circle cx="196.58" cy="387.3" r="2" fill="#ec8e7c" stroke="#151515" stroke-width="0.65"/>
<circle cx="196.58" cy="389.8" r="2" fill="#d9474a" stroke="#151515" stroke-width="0.65"/>
<circle cx="196.58" cy="397.8" r="2" fill="#b80c2c" stroke="#151515" stroke-width="0.65"/>
<rect x="201.87" y="372.3" width="3.8" height="3.8" fill="#1f4385" stroke="#151515" stroke-width="0.65"/>
<rect x="201.87" y="380.3" width="3.8" height="3.8" fill="#fde5de" stroke="#151515" stroke-width="0.65"/>
<rect x="201.87" y="382.5" width="3.8" height="3.8" fill="#ec8c7c" stroke="#151515" stroke-width="0.65"/>
<rect x="201.87" y="385.8" width="3.8" height="3.8" fill="#f5bcac" stroke="#151515" stroke-width="0.65"/>
<rect x="201.87" y="388.8" width="3.8" height="3.8" fill="#ec8c7c" stroke="#151515" stroke-width="0.65"/>
<rect x="201.87" y="393.6" width="3.8" height="3.8" fill="#bf0a2e" stroke="#151515" stroke-width="0.65"/>
<circle cx="217.75" cy="348.7" r="2" fill="#d9474a" stroke="#151515" stroke-width="0.65"/>
<circle cx="217.75" cy="357.7" r="2" fill="#b80c2c" stroke="#151515" stroke-width="0.65"/>
<circle cx="217.75" cy="364.3" r="2" fill="#f5bfae" stroke="#151515" stroke-width="0.65"/>
<circle cx="217.75" cy="386.9" r="2" fill="#fde6dc" stroke="#151515" stroke-width="0.65"/>
<rect x="223.04" y="337.2" width="3.8" height="3.8" fill="#ec8c7c" stroke="#151515" stroke-width="0.65"/>
<rect x="223.04" y="340.6" width="3.8" height="3.8" fill="#fde5de" stroke="#151515" stroke-width="0.65"/>
<rect x="223.04" y="343.8" width="3.8" height="3.8" fill="#d94a50" stroke="#151515" stroke-width="0.65"/>
<rect x="223.04" y="356.1" width="3.8" height="3.8" fill="#bf0a2e" stroke="#151515" stroke-width="0.65"/>
<rect x="223.04" y="367.7" width="3.8" height="3.8" fill="#1f4385" stroke="#151515" stroke-width="0.65"/>
<rect x="223.04" y="369.8" width="3.8" height="3.8" fill="#fde5de" stroke="#151515" stroke-width="0.65"/>
<circle cx="238.92" cy="342.7" r="2" fill="#d9474a" stroke="#151515" stroke-width="0.65"/>
<circle cx="238.92" cy="348.7" r="2" fill="#ec8e7c" stroke="#151515" stroke-width="0.65"/>
<circle cx="238.92" cy="370.2" r="2" fill="#b80c2c" stroke="#151515" stroke-width="0.65"/>
<circle cx="238.92" cy="379.7" r="2" fill="#f5bfae" stroke="#151515" stroke-width="0.65"/>
<circle cx="238.92" cy="385.4" r="2" fill="#fde6dc" stroke="#151515" stroke-width="0.65"/>
<circle cx="238.92" cy="398.3" r="2" fill="#1f4385" stroke="#151515" stroke-width="0.65"/>
<rect x="244.21" y="339" width="3.8" height="3.8" fill="#d94a50" stroke="#151515" stroke-width="0.65"/>
<rect x="244.21" y="346.8" width="3.8" height="3.8" fill="#ec8c7c" stroke="#151515" stroke-width="0.65"/>
<rect x="244.21" y="360" width="3.8" height="3.8" fill="#bf0a2e" stroke="#151515" stroke-width="0.65"/>
<rect x="244.21" y="374.6" width="3.8" height="3.8" fill="#f5bcac" stroke="#151515" stroke-width="0.65"/>
<rect x="244.21" y="384.7" width="3.8" height="3.8" fill="#fde5de" stroke="#151515" stroke-width="0.65"/>
<text transform="translate(54.48,416) rotate(-45)" font-size="8.2" text-anchor="end" fill="#111" stroke="#111" stroke-width="0.12">Tfrc</text>
<text transform="translate(75.65,416) rotate(-45)" font-size="8.2" text-anchor="end" fill="#111" stroke="#111" stroke-width="0.12">Streap3</text>
<text transform="translate(96.82,416) rotate(-45)" font-size="8.2" text-anchor="end" fill="#111" stroke="#111" stroke-width="0.12">Slc11a2</text>
<text transform="translate(117.99,416) rotate(-45)" font-size="8.2" text-anchor="end" fill="#111" stroke="#111" stroke-width="0.12">Slc40a1</text>
<text transform="translate(139.16,416) rotate(-45)" font-size="8.2" text-anchor="end" fill="#111" stroke="#111" stroke-width="0.12">Fth</text>
<text transform="translate(160.34,416) rotate(-45)" font-size="8.2" text-anchor="end" fill="#111" stroke="#111" stroke-width="0.12">Ftl</text>
<text transform="translate(181.5,416) rotate(-45)" font-size="8.2" text-anchor="end" fill="#111" stroke="#111" stroke-width="0.12">Aco1</text>
<text transform="translate(202.68,416) rotate(-45)" font-size="8.2" text-anchor="end" fill="#111" stroke="#111" stroke-width="0.12">Ireb2</text>
<text transform="translate(223.84,416) rotate(-45)" font-size="8.2" text-anchor="end" fill="#111" stroke="#111" stroke-width="0.12">Slc25a37</text>
<text transform="translate(245.01,416) rotate(-45)" font-size="8.2" text-anchor="end" fill="#111" stroke="#111" stroke-width="0.12">Eif2ak1</text>
<text x="147.3" y="449.7" font-size="10.2" text-anchor="middle" fill="#111" font-weight="normal"  textLength="49" lengthAdjust="spacingAndGlyphs" stroke="#111" stroke-width="0.3">Iron metabolism</text>
<text transform="translate(18,376.3) rotate(-90)" font-size="10.2" fill="#111" stroke="#111" stroke-width="0.15" textLength="82.3" lengthAdjust="spacingAndGlyphs">Log<tspan font-size="7" dy="2.2">2</tspan><tspan dy="-2.2">(protein copy number)</tspan></text>
<line x1="327.63" y1="254.2" x2="327.63" y2="409.8" stroke="#333" stroke-width="1.0"/>
<line x1="341.86" y1="254.2" x2="341.86" y2="409.8" stroke="#333" stroke-width="1.0"/>
<line x1="356.09" y1="254.2" x2="356.09" y2="409.8" stroke="#333" stroke-width="1.0"/>
<line x1="370.31" y1="254.2" x2="370.31" y2="409.8" stroke="#333" stroke-width="1.0"/>
<line x1="384.54" y1="254.2" x2="384.54" y2="409.8" stroke="#333" stroke-width="1.0"/>
<line x1="398.77" y1="254.2" x2="398.77" y2="409.8" stroke="#333" stroke-width="1.0"/>
<line x1="413" y1="254.2" x2="413" y2="409.8" stroke="#333" stroke-width="1.0"/>
<line x1="427.23" y1="254.2" x2="427.23" y2="409.8" stroke="#333" stroke-width="1.0"/>
<line x1="441.46" y1="254.2" x2="441.46" y2="409.8" stroke="#333" stroke-width="1.0"/>
<line x1="455.69" y1="254.2" x2="455.69" y2="409.8" stroke="#333" stroke-width="1.0"/>
<line x1="469.91" y1="254.2" x2="469.91" y2="409.8" stroke="#333" stroke-width="1.0"/>
<line x1="484.14" y1="254.2" x2="484.14" y2="409.8" stroke="#333" stroke-width="1.0"/>
<line x1="498.37" y1="254.2" x2="498.37" y2="409.8" stroke="#333" stroke-width="1.0"/>
<line x1="313.4" y1="406.2" x2="313.4" y2="409.2" stroke="#000" stroke-width="1.0"/>
<line x1="512.6" y1="406.2" x2="512.6" y2="409.2" stroke="#000" stroke-width="1.0"/>
<line x1="310.4" y1="406.2" x2="313.4" y2="406.2" stroke="#000" stroke-width="0.9"/>
<text transform="translate(306.8,409.1) scale(0.97,1)" font-size="8.2" text-anchor="end" fill="#111" stroke="#111" stroke-width="0.12">7</text>
<line x1="310.4" y1="392.38" x2="313.4" y2="392.38" stroke="#000" stroke-width="0.9"/>
<text transform="translate(306.8,395.28) scale(0.97,1)" font-size="8.2" text-anchor="end" fill="#111" stroke="#111" stroke-width="0.12">8</text>
<line x1="310.4" y1="378.56" x2="313.4" y2="378.56" stroke="#000" stroke-width="0.9"/>
<text transform="translate(306.8,381.46) scale(0.97,1)" font-size="8.2" text-anchor="end" fill="#111" stroke="#111" stroke-width="0.12">9</text>
<line x1="310.4" y1="364.74" x2="313.4" y2="364.74" stroke="#000" stroke-width="0.9"/>
<text transform="translate(306.8,367.64) scale(0.97,1)" font-size="8.2" text-anchor="end" fill="#111" stroke="#111" stroke-width="0.12">10</text>
<line x1="310.4" y1="350.92" x2="313.4" y2="350.92" stroke="#000" stroke-width="0.9"/>
<text transform="translate(306.8,353.82) scale(0.97,1)" font-size="8.2" text-anchor="end" fill="#111" stroke="#111" stroke-width="0.12">11</text>
<line x1="310.4" y1="337.1" x2="313.4" y2="337.1" stroke="#000" stroke-width="0.9"/>
<text transform="translate(306.8,340) scale(0.97,1)" font-size="8.2" text-anchor="end" fill="#111" stroke="#111" stroke-width="0.12">12</text>
<line x1="310.4" y1="323.28" x2="313.4" y2="323.28" stroke="#000" stroke-width="0.9"/>
<text transform="translate(306.8,326.18) scale(0.97,1)" font-size="8.2" text-anchor="end" fill="#111" stroke="#111" stroke-width="0.12">13</text>
<line x1="310.4" y1="309.46" x2="313.4" y2="309.46" stroke="#000" stroke-width="0.9"/>
<text transform="translate(306.8,312.36) scale(0.97,1)" font-size="8.2" text-anchor="end" fill="#111" stroke="#111" stroke-width="0.12">14</text>
<line x1="310.4" y1="295.64" x2="313.4" y2="295.64" stroke="#000" stroke-width="0.9"/>
<text transform="translate(306.8,298.54) scale(0.97,1)" font-size="8.2" text-anchor="end" fill="#111" stroke="#111" stroke-width="0.12">15</text>
<line x1="310.4" y1="281.82" x2="313.4" y2="281.82" stroke="#000" stroke-width="0.9"/>
<text transform="translate(306.8,284.72) scale(0.97,1)" font-size="8.2" text-anchor="end" fill="#111" stroke="#111" stroke-width="0.12">16</text>
<line x1="310.4" y1="268" x2="313.4" y2="268" stroke="#000" stroke-width="0.9"/>
<text transform="translate(306.8,270.9) scale(0.97,1)" font-size="8.2" text-anchor="end" fill="#111" stroke="#111" stroke-width="0.12">17</text>
<line x1="310.4" y1="254.18" x2="313.4" y2="254.18" stroke="#000" stroke-width="0.9"/>
<text transform="translate(306.8,257.08) scale(0.97,1)" font-size="8.2" text-anchor="end" fill="#111" stroke="#111" stroke-width="0.12">18</text>
<rect x="313.4" y="254.2" width="199.2" height="152" fill="none" stroke="#000" stroke-width="1.2"/>
<circle cx="317.71" cy="339.3" r="2" fill="#1f4385" stroke="#151515" stroke-width="0.65"/>
<circle cx="331.94" cy="271.8" r="2" fill="#fde6dc" stroke="#151515" stroke-width="0.65"/>
<circle cx="331.94" cy="275.7" r="2" fill="#1f4385" stroke="#151515" stroke-width="0.65"/>
<circle cx="331.94" cy="286.1" r="2" fill="#ec8e7c" stroke="#151515" stroke-width="0.65"/>
<circle cx="331.94" cy="287.8" r="2" fill="#d9474a" stroke="#151515" stroke-width="0.65"/>
<circle cx="331.94" cy="289.6" r="2" fill="#ec8e7c" stroke="#151515" stroke-width="0.65"/>
<circle cx="331.94" cy="303.5" r="2" fill="#b80c2c" stroke="#151515" stroke-width="0.65"/>
<rect x="335.64" y="280.7" width="3.8" height="3.8" fill="#fde5de" stroke="#151515" stroke-width="0.65"/>
<rect x="335.64" y="284.2" width="3.8" height="3.8" fill="#f5bcac" stroke="#151515" stroke-width="0.65"/>
<rect x="335.64" y="286.3" width="3.8" height="3.8" fill="#fde5de" stroke="#151515" stroke-width="0.65"/>
<rect x="335.64" y="289.1" width="3.8" height="3.8" fill="#1f4385" stroke="#151515" stroke-width="0.65"/>
<rect x="335.64" y="302.4" width="3.8" height="3.8" fill="#ec8c7c" stroke="#151515" stroke-width="0.65"/>
<rect x="335.64" y="308.9" width="3.8" height="3.8" fill="#d94a50" stroke="#151515" stroke-width="0.65"/>
<rect x="335.64" y="330.8" width="3.8" height="3.8" fill="#bf0a2e" stroke="#151515" stroke-width="0.65"/>
<circle cx="346.17" cy="297.9" r="2" fill="#fde6dc" stroke="#151515" stroke-width="0.65"/>
<circle cx="346.17" cy="301.4" r="2" fill="#1f4385" stroke="#151515" stroke-width="0.65"/>
<circle cx="346.17" cy="306.6" r="2" fill="#f5bfae" stroke="#151515" stroke-width="0.65"/>
<circle cx="346.17" cy="308.7" r="2" fill="#ec8e7c" stroke="#151515" stroke-width="0.65"/>
<circle cx="346.17" cy="310.8" r="2" fill="#d9474a" stroke="#151515" stroke-width="0.65"/>
<circle cx="346.17" cy="316.5" r="2" fill="#b80c2c" stroke="#151515" stroke-width="0.65"/>
<rect x="349.87" y="298.1" width="3.8" height="3.8" fill="#fde5de" stroke="#151515" stroke-width="0.65"/>
<rect x="349.87" y="300.7" width="3.8" height="3.8" fill="#f5bcac" stroke="#151515" stroke-width="0.65"/>
<rect x="349.87" y="309.9" width="3.8" height="3.8" fill="#ec8c7c" stroke="#151515" stroke-width="0.65"/>
<rect x="349.87" y="314.1" width="3.8" height="3.8" fill="#d94a50" stroke="#151515" stroke-width="0.65"/>
<rect x="349.87" y="321.5" width="3.8" height="3.8" fill="#bf0a2e" stroke="#151515" stroke-width="0.65"/>
<circle cx="360.4" cy="298.6" r="2" fill="#fde6dc" stroke="#151515" stroke-width="0.65"/>
<circle cx="360.4" cy="307.1" r="2" fill="#1f4385" stroke="#151515" stroke-width="0.65"/>
<circle cx="360.4" cy="310.3" r="2" fill="#f5bfae" stroke="#151515" stroke-width="0.65"/>
<circle cx="360.4" cy="318.2" r="2" fill="#ec8e7c" stroke="#151515" stroke-width="0.65"/>
<circle cx="360.4" cy="323.8" r="2" fill="#d9474a" stroke="#151515" stroke-width="0.65"/>
<circle cx="360.4" cy="328.8" r="2" fill="#b80c2c" stroke="#151515" stroke-width="0.65"/>
<rect x="364.1" y="311.5" width="3.8" height="3.8" fill="#1f4385" stroke="#151515" stroke-width="0.65"/>
<rect x="364.1" y="308.4" width="3.8" height="3.8" fill="#fde5de" stroke="#151515" stroke-width="0.65"/>
<rect x="364.1" y="325" width="3.8" height="3.8" fill="#f5bcac" stroke="#151515" stroke-width="0.65"/>
<rect x="364.1" y="336.3" width="3.8" height="3.8" fill="#ec8c7c" stroke="#151515" stroke-width="0.65"/>
<rect x="364.1" y="338.5" width="3.8" height="3.8" fill="#d94a50" stroke="#151515" stroke-width="0.65"/>
<rect x="364.1" y="356.3" width="3.8" height="3.8" fill="#bf0a2e" stroke="#151515" stroke-width="0.65"/>
<circle cx="374.63" cy="286.8" r="2" fill="#f5bfae" stroke="#151515" stroke-width="0.65"/>
<circle cx="374.63" cy="288.7" r="2" fill="#ec8e7c" stroke="#151515" stroke-width="0.65"/>
<circle cx="374.63" cy="293.3" r="2" fill="#1f4385" stroke="#151515" stroke-width="0.65"/>
<circle cx="374.63" cy="303.4" r="2" fill="#ec8e7c" stroke="#151515" stroke-width="0.65"/>
<circle cx="374.63" cy="310.8" r="2" fill="#d9474a" stroke="#151515" stroke-width="0.65"/>
<circle cx="374.63" cy="323.8" r="2" fill="#b80c2c" stroke="#151515" stroke-width="0.65"/>
<rect x="378.33" y="287.5" width="3.8" height="3.8" fill="#fde5de" stroke="#151515" stroke-width="0.65"/>
<rect x="378.33" y="291.2" width="3.8" height="3.8" fill="#f5bcac" stroke="#151515" stroke-width="0.65"/>
<rect x="378.33" y="302.8" width="3.8" height="3.8" fill="#1f4385" stroke="#151515" stroke-width="0.65"/>
<rect x="378.33" y="310.8" width="3.8" height="3.8" fill="#ec8c7c" stroke="#151515" stroke-width="0.65"/>
<rect x="378.33" y="325.9" width="3.8" height="3.8" fill="#d94a50" stroke="#151515" stroke-width="0.65"/>
<circle cx="388.86" cy="294.9" r="2" fill="#1f4385" stroke="#151515" stroke-width="0.65"/>
<circle cx="388.86" cy="296.8" r="2" fill="#fde6dc" stroke="#151515" stroke-width="0.65"/>
<circle cx="388.86" cy="302.3" r="2" fill="#f5bfae" stroke="#151515" stroke-width="0.65"/>
<circle cx="388.86" cy="315.8" r="2" fill="#ec8e7c" stroke="#151515" stroke-width="0.65"/>
<circle cx="388.86" cy="319" r="2" fill="#d9474a" stroke="#151515" stroke-width="0.65"/>
<circle cx="388.86" cy="327.5" r="2" fill="#b80c2c" stroke="#151515" stroke-width="0.65"/>
<rect x="392.56" y="301.9" width="3.8" height="3.8" fill="#1f4385" stroke="#151515" stroke-width="0.65"/>
<rect x="392.56" y="307.5" width="3.8" height="3.8" fill="#fde5de" stroke="#151515" stroke-width="0.65"/>
<rect x="392.56" y="321.3" width="3.8" height="3.8" fill="#ec8c7c" stroke="#151515" stroke-width="0.65"/>
<circle cx="403.09" cy="308.1" r="2" fill="#fde6dc" stroke="#151515" stroke-width="0.65"/>
<circle cx="403.09" cy="316.4" r="2" fill="#f5bfae" stroke="#151515" stroke-width="0.65"/>
<circle cx="403.09" cy="331.6" r="2" fill="#ec8e7c" stroke="#151515" stroke-width="0.65"/>
<circle cx="403.09" cy="337.7" r="2" fill="#d9474a" stroke="#151515" stroke-width="0.65"/>
<circle cx="403.09" cy="350.1" r="2" fill="#b80c2c" stroke="#151515" stroke-width="0.65"/>
<rect x="406.79" y="309" width="3.8" height="3.8" fill="#fde5de" stroke="#151515" stroke-width="0.65"/>
<rect x="406.79" y="312.1" width="3.8" height="3.8" fill="#1f4385" stroke="#151515" stroke-width="0.65"/>
<rect x="406.79" y="317.3" width="3.8" height="3.8" fill="#f5bcac" stroke="#151515" stroke-width="0.65"/>
<rect x="406.79" y="350" width="3.8" height="3.8" fill="#ec8c7c" stroke="#151515" stroke-width="0.65"/>
<rect x="406.79" y="352.8" width="3.8" height="3.8" fill="#d94a50" stroke="#151515" stroke-width="0.65"/>
<rect x="406.79" y="355.6" width="3.8" height="3.8" fill="#ec8c7c" stroke="#151515" stroke-width="0.65"/>
<rect x="406.79" y="368.5" width="3.8" height="3.8" fill="#bf0a2e" stroke="#151515" stroke-width="0.65"/>
<circle cx="417.31" cy="301.5" r="2" fill="#1f4385" stroke="#151515" stroke-width="0.65"/>
<circle cx="417.31" cy="313.7" r="2" fill="#fde6dc" stroke="#151515" stroke-width="0.65"/>
<circle cx="417.31" cy="319.9" r="2" fill="#f5bfae" stroke="#151515" stroke-width="0.65"/>
<circle cx="417.31" cy="334.7" r="2" fill="#ec8e7c" stroke="#151515" stroke-width="0.65"/>
<circle cx="417.31" cy="339" r="2" fill="#d9474a" stroke="#151515" stroke-width="0.65"/>
<circle cx="417.31" cy="345.1" r="2" fill="#b80c2c" stroke="#151515" stroke-width="0.65"/>
<rect x="421.01" y="317.3" width="3.8" height="3.8" fill="#1f4385" stroke="#151515" stroke-width="0.65"/>
<rect x="421.01" y="335.2" width="3.8" height="3.8" fill="#fde5de" stroke="#151515" stroke-width="0.65"/>
<rect x="421.01" y="337.6" width="3.8" height="3.8" fill="#f5bcac" stroke="#151515" stroke-width="0.65"/>
<rect x="421.01" y="341.7" width="3.8" height="3.8" fill="#ec8c7c" stroke="#151515" stroke-width="0.65"/>
<rect x="421.01" y="353.7" width="3.8" height="3.8" fill="#d94a50" stroke="#151515" stroke-width="0.65"/>
<circle cx="431.54" cy="334.4" r="2" fill="#ec8e7c" stroke="#151515" stroke-width="0.65"/>
<circle cx="431.54" cy="339" r="2" fill="#d9474a" stroke="#151515" stroke-width="0.65"/>
<circle cx="431.54" cy="343.6" r="2" fill="#f5bfae" stroke="#151515" stroke-width="0.65"/>
<circle cx="431.54" cy="347.7" r="2" fill="#b80c2c" stroke="#151515" stroke-width="0.65"/>
<rect x="435.24" y="328.8" width="3.8" height="3.8" fill="#ec8c7c" stroke="#151515" stroke-width="0.65"/>
<rect x="435.24" y="331.5" width="3.8" height="3.8" fill="#d94a50" stroke="#151515" stroke-width="0.65"/>
<rect x="435.24" y="334.3" width="3.8" height="3.8" fill="#ec8c7c" stroke="#151515" stroke-width="0.65"/>
<rect x="435.24" y="339.9" width="3.8" height="3.8" fill="#fde5de" stroke="#151515" stroke-width="0.65"/>
<rect x="435.24" y="343.2" width="3.8" height="3.8" fill="#1f4385" stroke="#151515" stroke-width="0.65"/>
<rect x="435.24" y="363.9" width="3.8" height="3.8" fill="#bf0a2e" stroke="#151515" stroke-width="0.65"/>
<circle cx="445.77" cy="288.7" r="2" fill="#fde6dc" stroke="#151515" stroke-width="0.65"/>
<circle cx="445.77" cy="292.4" r="2" fill="#1f4385" stroke="#151515" stroke-width="0.65"/>
<circle cx="445.77" cy="294.6" r="2" fill="#f5bfae" stroke="#151515" stroke-width="0.65"/>
<circle cx="445.77" cy="325.1" r="2" fill="#ec8e7c" stroke="#151515" stroke-width="0.65"/>
<circle cx="445.77" cy="329.7" r="2" fill="#d9474a" stroke="#151515" stroke-width="0.65"/>
<circle cx="445.77" cy="331.5" r="2" fill="#b80c2c" stroke="#151515" stroke-width="0.65"/>
<circle cx="445.77" cy="333" r="2" fill="#d9474a" stroke="#151515" stroke-width="0.65"/>
<rect x="449.47" y="269" width="3.8" height="3.8" fill="#fde5de" stroke="#151515" stroke-width="0.65"/>
<rect x="449.47" y="288.1" width="3.8" height="3.8" fill="#1f4385" stroke="#151515" stroke-width="0.65"/>
<rect x="449.47" y="291.8" width="3.8" height="3.8" fill="#f5bcac" stroke="#151515" stroke-width="0.65"/>
<rect x="449.47" y="328.7" width="3.8" height="3.8" fill="#ec8c7c" stroke="#151515" stroke-width="0.65"/>
<rect x="449.47" y="334.5" width="3.8" height="3.8" fill="#bf0a2e" stroke="#151515" stroke-width="0.65"/>
<rect x="449.47" y="348.6" width="3.8" height="3.8" fill="#d94a50" stroke="#151515" stroke-width="0.65"/>
<circle cx="460" cy="320.1" r="2" fill="#f5bfae" stroke="#151515" stroke-width="0.65"/>
<circle cx="460" cy="327.5" r="2" fill="#fde6dc" stroke="#151515" stroke-width="0.65"/>
<circle cx="460" cy="333.8" r="2" fill="#ec8e7c" stroke="#151515" stroke-width="0.65"/>
<circle cx="460" cy="337.3" r="2" fill="#d9474a" stroke="#151515" stroke-width="0.65"/>
<circle cx="460" cy="341" r="2" fill="#1f4385" stroke="#151515" stroke-width="0.65"/>
<circle cx="460" cy="363.8" r="2" fill="#b80c2c" stroke="#151515" stroke-width="0.65"/>
<rect x="463.7" y="331.1" width="3.8" height="3.8" fill="#fde5de" stroke="#151515" stroke-width="0.65"/>
<rect x="463.7" y="338.5" width="3.8" height="3.8" fill="#f5bcac" stroke="#151515" stroke-width="0.65"/>
<rect x="463.7" y="348.2" width="3.8" height="3.8" fill="#1f4385" stroke="#151515" stroke-width="0.65"/>
<rect x="463.7" y="352.1" width="3.8" height="3.8" fill="#ec8c7c" stroke="#151515" stroke-width="0.65"/>
<rect x="463.7" y="358.8" width="3.8" height="3.8" fill="#d94a50" stroke="#151515" stroke-width="0.65"/>
<circle cx="474.23" cy="330.8" r="2" fill="#1f4385" stroke="#151515" stroke-width="0.65"/>
<circle cx="474.23" cy="334.3" r="2" fill="#fde6dc" stroke="#151515" stroke-width="0.65"/>
<circle cx="474.23" cy="344.9" r="2" fill="#f5bfae" stroke="#151515" stroke-width="0.65"/>
<circle cx="474.23" cy="352.8" r="2" fill="#ec8e7c" stroke="#151515" stroke-width="0.65"/>
<circle cx="474.23" cy="359.2" r="2" fill="#d9474a" stroke="#151515" stroke-width="0.65"/>
<circle cx="474.23" cy="384.8" r="2" fill="#b80c2c" stroke="#151515" stroke-width="0.65"/>
<rect x="477.93" y="328.1" width="3.8" height="3.8" fill="#1f4385" stroke="#151515" stroke-width="0.65"/>
<rect x="477.93" y="325.9" width="3.8" height="3.8" fill="#fde5de" stroke="#151515" stroke-width="0.65"/>
<rect x="477.93" y="342.1" width="3.8" height="3.8" fill="#f5bcac" stroke="#151515" stroke-width="0.65"/>
<rect x="477.93" y="356.7" width="3.8" height="3.8" fill="#d94a50" stroke="#151515" stroke-width="0.65"/>
<rect x="477.93" y="360.8" width="3.8" height="3.8" fill="#ec8c7c" stroke="#151515" stroke-width="0.65"/>
<circle cx="488.46" cy="269.9" r="2" fill="#1f4385" stroke="#151515" stroke-width="0.65"/>
<circle cx="488.46" cy="276.4" r="2" fill="#fde6dc" stroke="#151515" stroke-width="0.65"/>
<circle cx="488.46" cy="282.2" r="2" fill="#f5bfae" stroke="#151515" stroke-width="0.65"/>
<circle cx="488.46" cy="298.7" r="2" fill="#ec8e7c" stroke="#151515" stroke-width="0.65"/>
<circle cx="488.46" cy="305.1" r="2" fill="#d9474a" stroke="#151515" stroke-width="0.65"/>
<circle cx="488.46" cy="314.5" r="2" fill="#b80c2c" stroke="#151515" stroke-width="0.65"/>
<rect x="492.16" y="272.5" width="3.8" height="3.8" fill="#1f4385" stroke="#151515" stroke-width="0.65"/>
<rect x="492.16" y="278.8" width="3.8" height="3.8" fill="#fde5de" stroke="#151515" stroke-width="0.65"/>
<rect x="492.16" y="294.8" width="3.8" height="3.8" fill="#f5bcac" stroke="#151515" stroke-width="0.65"/>
<rect x="492.16" y="314.6" width="3.8" height="3.8" fill="#ec8c7c" stroke="#151515" stroke-width="0.65"/>
<rect x="492.16" y="319.9" width="3.8" height="3.8" fill="#d94a50" stroke="#151515" stroke-width="0.65"/>
<rect x="492.16" y="326.7" width="3.8" height="3.8" fill="#bf0a2e" stroke="#151515" stroke-width="0.65"/>
<circle cx="502.69" cy="315.9" r="2" fill="#1f4385" stroke="#151515" stroke-width="0.65"/>
<circle cx="502.69" cy="322.6" r="2" fill="#fde6dc" stroke="#151515" stroke-width="0.65"/>
<circle cx="502.69" cy="332.6" r="2" fill="#f5bfae" stroke="#151515" stroke-width="0.65"/>
<circle cx="502.69" cy="344.5" r="2" fill="#ec8e7c" stroke="#151515" stroke-width="0.65"/>
<circle cx="502.69" cy="347.1" r="2" fill="#d9474a" stroke="#151515" stroke-width="0.65"/>
<circle cx="502.69" cy="357.2" r="2" fill="#b80c2c" stroke="#151515" stroke-width="0.65"/>
<rect x="506.39" y="310.5" width="3.8" height="3.8" fill="#1f4385" stroke="#151515" stroke-width="0.65"/>
<rect x="506.39" y="314.4" width="3.8" height="3.8" fill="#fde5de" stroke="#151515" stroke-width="0.65"/>
<rect x="506.39" y="333.7" width="3.8" height="3.8" fill="#ec8c7c" stroke="#151515" stroke-width="0.65"/>
<rect x="506.39" y="349.4" width="3.8" height="3.8" fill="#d94a50" stroke="#151515" stroke-width="0.65"/>
<rect x="506.39" y="357.5" width="3.8" height="3.8" fill="#bf0a2e" stroke="#151515" stroke-width="0.65"/>
<text transform="translate(323.01,417) rotate(-45)" font-size="8.2" text-anchor="end" fill="#111" stroke="#111" stroke-width="0.12">Gata2</text>
<text transform="translate(337.24,417) rotate(-45)" font-size="8.2" text-anchor="end" fill="#111" stroke="#111" stroke-width="0.12">Gata1</text>
<text transform="translate(351.47,417) rotate(-45)" font-size="8.2" text-anchor="end" fill="#111" stroke="#111" stroke-width="0.12">Zfpm1</text>
<text transform="translate(365.7,417) rotate(-45)" font-size="8.2" text-anchor="end" fill="#111" stroke="#111" stroke-width="0.12">Ldb1</text>
<text transform="translate(379.93,417) rotate(-45)" font-size="8.2" text-anchor="end" fill="#111" stroke="#111" stroke-width="0.12">Tal1</text>
<text transform="translate(394.16,417) rotate(-45)" font-size="8.2" text-anchor="end" fill="#111" stroke="#111" stroke-width="0.12">Lmo2</text>
<text transform="translate(408.39,417) rotate(-45)" font-size="8.2" text-anchor="end" fill="#111" stroke="#111" stroke-width="0.12">Tcf3</text>
<text transform="translate(422.61,417) rotate(-45)" font-size="8.2" text-anchor="end" fill="#111" stroke="#111" stroke-width="0.12">Cbfa2t3</text>
<text transform="translate(436.84,417) rotate(-45)" font-size="8.2" text-anchor="end" fill="#111" stroke="#111" stroke-width="0.12">Nfe2</text>
<text transform="translate(451.07,417) rotate(-45)" font-size="8.2" text-anchor="end" fill="#111" stroke="#111" stroke-width="0.12">Gfi1b</text>
<text transform="translate(465.3,417) rotate(-45)" font-size="8.2" text-anchor="end" fill="#111" stroke="#111" stroke-width="0.12">Klf1</text>
<text transform="translate(479.53,417) rotate(-45)" font-size="8.2" text-anchor="end" fill="#111" stroke="#111" stroke-width="0.12">Nr3c1</text>
<text transform="translate(493.76,417) rotate(-45)" font-size="8.2" text-anchor="end" fill="#111" stroke="#111" stroke-width="0.12">Stat5a</text>
<text transform="translate(507.99,417) rotate(-45)" font-size="8.2" text-anchor="end" fill="#111" stroke="#111" stroke-width="0.12">StatA5b</text>
<text x="413.2" y="450.3" font-size="10.2" text-anchor="middle" fill="#111" font-weight="normal"  textLength="61.5" lengthAdjust="spacingAndGlyphs" stroke="#111" stroke-width="0.3">Transcription factors</text>
<text transform="translate(289.9,371.3) rotate(-90)" font-size="10.2" fill="#111" stroke="#111" stroke-width="0.15" textLength="82.3" lengthAdjust="spacingAndGlyphs">Log<tspan font-size="7" dy="2.2">2</tspan><tspan dy="-2.2">(protein copy number)</tspan></text>
<text x="7.2" y="17.8" font-size="12.5" text-anchor="start" fill="#000" font-weight="bold"  stroke="#000" stroke-width="0.45">A</text>
<text x="269.3" y="17.8" font-size="12.5" text-anchor="start" fill="#000" font-weight="bold"  stroke="#000" stroke-width="0.45">B</text>
<text x="7.4" y="248.3" font-size="12.5" text-anchor="start" fill="#000" font-weight="bold"  stroke="#000" stroke-width="0.45">C</text>
<text x="269.6" y="248.3" font-size="12.5" text-anchor="start" fill="#000" font-weight="bold"  stroke="#000" stroke-width="0.45">D</text>
<rect x="0.5" y="0.5" width="519" height="459" fill="none" stroke="#000" stroke-width="1"/>
</svg>
</body></html>
